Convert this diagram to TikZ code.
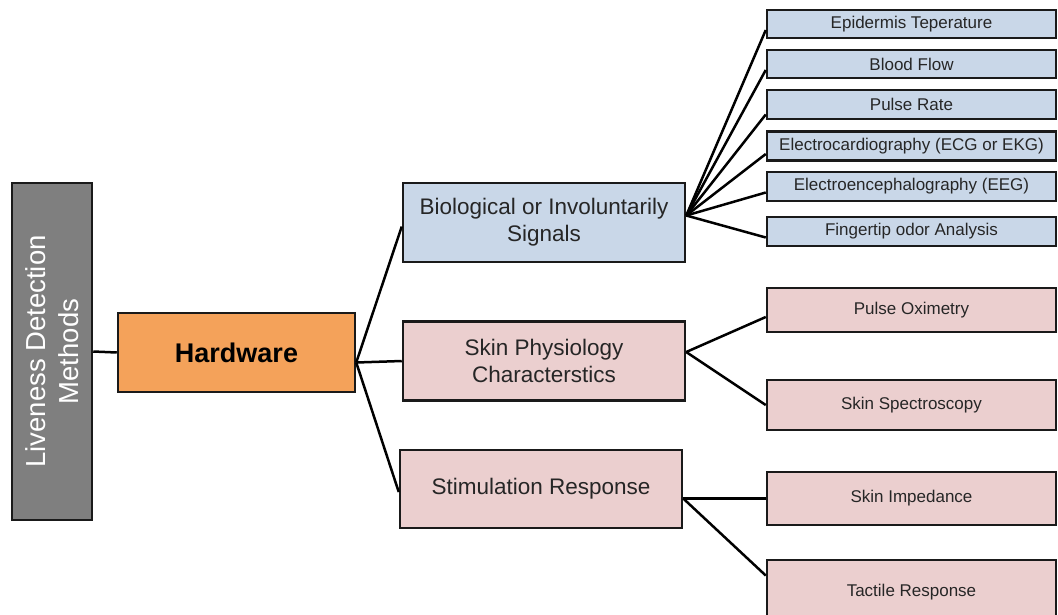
\documentclass[tikz,border=0pt]{standalone}
\usepackage{fontspec}
\setmainfont{Liberation Sans}
\definecolor{grayfill}{HTML}{7F7F7F}
\definecolor{orangefill}{HTML}{F4A25A}
\definecolor{bluefill}{HTML}{C9D7E8}
\definecolor{pinkfill}{HTML}{EBCFCF}
\definecolor{txt}{HTML}{262626}
\definecolor{edge}{HTML}{1A1A1A}
\begin{document}
\begin{tikzpicture}[x=1pt,y=-1pt,
  box/.style={draw=edge, line width=2.5pt, rectangle, inner sep=0pt, align=center, text=txt},
  bluebox/.style={box, fill=bluefill},
  pinkbox/.style={box, fill=pinkfill},
  smallbox/.style={minimum width=289pt, font=\fontsize{17}{19}\selectfont},
  midbox/.style={minimum width=282pt, minimum height=79pt, font=\fontsize{22.5}{27}\selectfont},
  link/.style={draw=black, line width=2.5pt}
]
\useasboundingbox (0,0) rectangle (1058,614);
\fill[white] (0,0) rectangle (1058,614);

\node[box, fill=grayfill, minimum width=80pt, minimum height=337pt] (live) at (52,351.5) {};
\node[box, fill=orangefill, minimum width=237pt, minimum height=79pt, font=\fontsize{27}{30}\selectfont\bfseries, text=black] (hw) at (236.5,352.5) {Hardware};
\node[text=white, rotate=90, align=center, font=\fontsize{27.5}{33}\selectfont] (livetext) at (live.center) {Liveness Detection\\Methods};

\node[bluebox, midbox] (bio) at (544,222.5) {Biological or Involuntarily\\Signals};
\node[pinkbox, midbox] (skin) at (544,361) {Skin Physiology\\Characterstics};
\node[pinkbox, midbox, minimum height=78pt] (stim) at (541,489) {Stimulation Response};

\node[bluebox, smallbox, minimum height=28pt] (epi) at (911.5,24) {Epidermis Teperature};
\node[bluebox, smallbox, minimum height=28pt] (blood) at (911.5,64) {Blood Flow};
\node[bluebox, smallbox, minimum height=29pt] (pulse) at (911.5,104.5) {Pulse Rate};
\node[bluebox, smallbox, minimum height=29pt] (ecg) at (911.5,146) {Electrocardiography (ECG or EKG)};
\node[bluebox, smallbox, minimum height=29pt] (eeg) at (911.5,186.5) {Electroencephalography (EEG)};
\node[bluebox, smallbox, minimum height=29pt] (finger) at (911.5,231.5) {Fingertip odor Analysis};

\node[pinkbox, smallbox, minimum height=44pt] (po) at (911.5,310) {Pulse Oximetry};
\node[pinkbox, smallbox, minimum height=50pt] (spec) at (911.5,405) {Skin Spectroscopy};
\node[pinkbox, smallbox, minimum height=53pt] (imp) at (911.5,498.5) {Skin Impedance};
\node[pinkbox, smallbox, minimum height=65pt] (tact) at (911.5,592.5) {Tactile Response};

\draw[link] (live.east) -- (hw.west);
\draw[link] ([yshift=-10pt]hw.east) -- ([yshift=-4pt]bio.west);
\draw[link] ([yshift=-10pt]hw.east) -- (skin.west);
\draw[link] ([yshift=-10pt]hw.east) -- ([yshift=-3pt]stim.west);

\draw[link] ([yshift=7pt]bio.east) -- ([yshift=-6pt]epi.west);
\draw[link] ([yshift=7pt]bio.east) -- ([yshift=-6pt]blood.west);
\draw[link] ([yshift=7pt]bio.east) -- ([yshift=-10pt]pulse.west);
\draw[link] ([yshift=7pt]bio.east) -- ([yshift=-8pt]ecg.west);
\draw[link] ([yshift=7pt]bio.east) -- ([yshift=-6pt]eeg.west);
\draw[link] ([yshift=7pt]bio.east) -- ([yshift=-6pt]finger.west);

\draw[link] ([yshift=9pt]skin.east) -- ([yshift=-7pt]po.west);
\draw[link] ([yshift=9pt]skin.east) -- (spec.west);

\draw[link] ([yshift=-9.5pt]stim.east) -- (imp.west);
\draw[link] ([yshift=-9.5pt]stim.east) -- ([yshift=17pt]tact.west);
\end{tikzpicture}
\end{document}
